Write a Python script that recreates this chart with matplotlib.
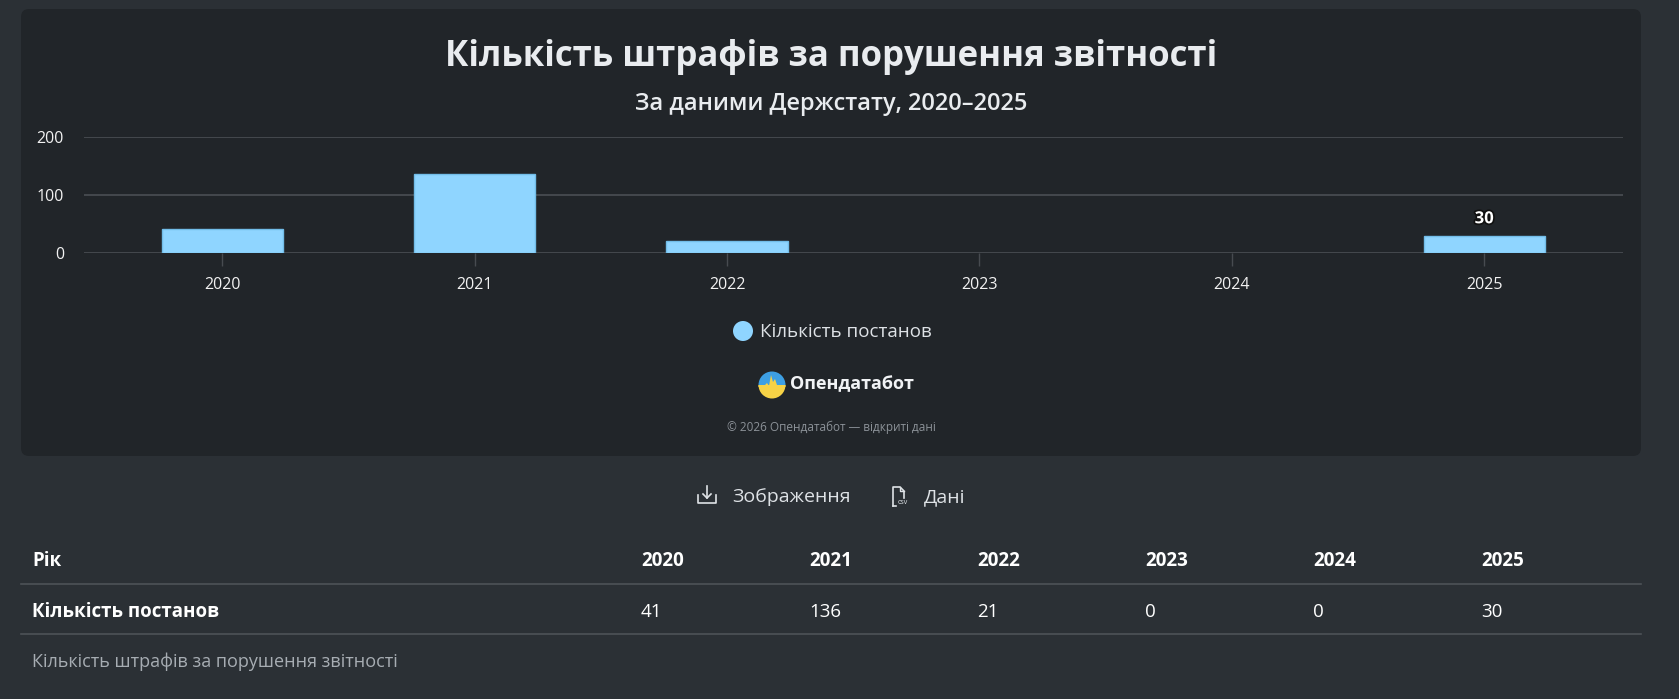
import matplotlib
matplotlib.use("Agg")
import matplotlib.pyplot as plt
from matplotlib.patches import FancyBboxPatch, Circle, Wedge, Polygon
import matplotlib.patheffects as pe
from matplotlib import font_manager

names = {f.name for f in font_manager.fontManager.ttflist}
main_font = 'Open Sans' if 'Open Sans' in names else 'Noto Sans'
plt.rcParams['font.family'] = [main_font, 'DejaVu Sans']

# ---- data ----
years = ["2020", "2021", "2022", "2023", "2024", "2025"]
values = [41, 136, 21, 0, 0, 30]
labelled = {"2025": 30}
series_name = "Кількість постанов"
title = "Кількість штрафів за порушення звітності"
subtitle = "За даними Держстату, 2020–2025"
yticks = [0, 100, 200]
table_head = "Рік"
caption = "Кількість штрафів за порушення звітності"

W, H = 1679, 699
fig = plt.figure(figsize=(W / 100, H / 100), dpi=100)
fig.patch.set_facecolor('#2b3035')

bg = fig.add_axes([0, 0, 1, 1])
bg.set_xlim(0, W)
bg.set_ylim(H, 0)
bg.axis('off')
bg.set_zorder(0)

# card
bg.add_patch(FancyBboxPatch((21, 9), 1620, 447, boxstyle="round,pad=0,rounding_size=8",
                            fc='#212529', ec='none'))

bg.text(831, 57, title, ha='center', va='center', fontsize=25, fontweight='bold', color='#e9ecef')
bg.text(831, 104, subtitle, ha='center', va='center', fontsize=17, fontweight='semibold', color='#e9ecef')

# chart axes
ax = fig.add_axes([83.5 / W, 1 - 253 / H, (1623 - 83.5) / W, (253 - 137) / H])
ax.set_zorder(1)
ax.patch.set_alpha(0)
x = list(range(len(years)))
ax.set_xlim(-0.55, len(years) - 0.45)
ax.set_ylim(0, 200)
for v in yticks:
    ax.axhline(v, color='#474b50', lw=1.3, zorder=0)
bars = ax.bar(x, values, width=0.48, color='#8fd5ff', edgecolor='#72bde8', linewidth=1, zorder=2)
for b, v in zip(bars, values):
    if v == 0:
        b.set_linewidth(0)
for i, (yr, v) in enumerate(zip(years, values)):
    if yr in labelled:
        ax.annotate(str(labelled[yr]), (i, v), xytext=(0, 6), textcoords='offset points',
                    ha='center', va='bottom', fontsize=12, fontweight='bold', color='white',
                    path_effects=[pe.withStroke(linewidth=2.5, foreground='#111111')])
for s in ax.spines.values():
    s.set_visible(False)
ax.set_xticks(x)
ax.set_xticklabels(years)
ax.set_yticks(yticks)
ax.tick_params(axis='x', length=9, width=1, color='#474b50', pad=8, labelsize=11.5, labelcolor='#f2f2f2')
ax.tick_params(axis='y', length=0, pad=14, labelsize=11.5, labelcolor='#f2f2f2')

# legend
bg.add_patch(Circle((743, 331), 10, fc='#8fd5ff', ec='none'))
bg.text(760, 332, series_name, ha='left', va='center', fontsize=13.5, color='#dee2e6')

# logo
cx, cy, r = 772, 385, 13.5
bg.add_patch(Wedge((cx, cy), r, 180, 360, fc='#3d9fe3', ec='none'))
bg.add_patch(Wedge((cx, cy), r, 0, 180, fc='#f6d246', ec='none'))
wave = [(cx - r, cy), (cx - 7, cy), (cx - 5, cy - 2), (cx - 3, cy + 1), (cx - 1, cy - 10),
        (cx + 1, cy - 3), (cx + 3, cy - 6), (cx + 5, cy), (cx + r, cy), (cx + r, cy + 2), (cx - r, cy + 2)]
bg.add_patch(Polygon(wave, closed=True, fc='#f6d246', ec='none'))
bg.text(790, 384, "Опендатабот", ha='left', va='center', fontsize=13, fontweight='bold', color='#f1f3f5')
bg.text(831, 427, "© 2026 Опендатабот — відкриті дані", ha='center', va='center',
        fontsize=8.5, color='#8c9298')

# buttons
ic = '#dee2e6'
ix, iy = 707, 497
bg.plot([ix, ix], [iy - 11, iy + 1], color=ic, lw=1.2)
bg.plot([ix - 4, ix, ix + 4], [iy - 3, iy + 1, iy - 3], color=ic, lw=1.2)
bg.plot([ix - 9, ix - 9, ix + 9, ix + 9], [iy - 2, iy + 6, iy + 6, iy - 2], color=ic, lw=1.2)
bg.text(732, 497, "Зображення", ha='left', va='center', fontsize=14, color='#dee2e6')
dx, dy = 893, 497
bg.plot([dx, dx, dx + 7, dx + 11, dx + 11], [dy + 9, dy - 10, dy - 10, dy - 6, dy + 1], color=ic, lw=1.2)
bg.plot([dx + 7, dx + 7, dx + 11], [dy - 10, dy - 6, dy - 6], color=ic, lw=1.0)
bg.plot([dx, dx + 3], [dy + 9, dy + 9], color=ic, lw=1.2)
bg.text(dx + 10, dy + 6, "csv", ha='center', va='center', fontsize=5, color=ic)
bg.text(924, 497, "Дані", ha='left', va='center', fontsize=14, color='#dee2e6')

# table
col_x = [641 + 168 * i for i in range(len(years))]
bg.text(32, 561, table_head, ha='left', va='center', fontsize=13.5, fontweight='bold', color='white')
for cxp, yr in zip(col_x, years):
    bg.text(cxp, 561, yr, ha='left', va='center', fontsize=13.5, fontweight='bold', color='white')
bg.plot([21, 1641], [584, 584], color='#4d5257', lw=1.2)
bg.text(32, 612, series_name, ha='left', va='center', fontsize=13.5, fontweight='bold', color='white')
for cxp, v in zip(col_x, values):
    bg.text(cxp, 612, str(v), ha='left', va='center', fontsize=13.5, color='white')
bg.plot([21, 1641], [634, 634], color='#4d5257', lw=1.2)
bg.text(32, 662, caption, ha='left', va='center', fontsize=13, color='#a7adb3')

fig.savefig("out.png", dpi=100, facecolor=fig.get_facecolor())
